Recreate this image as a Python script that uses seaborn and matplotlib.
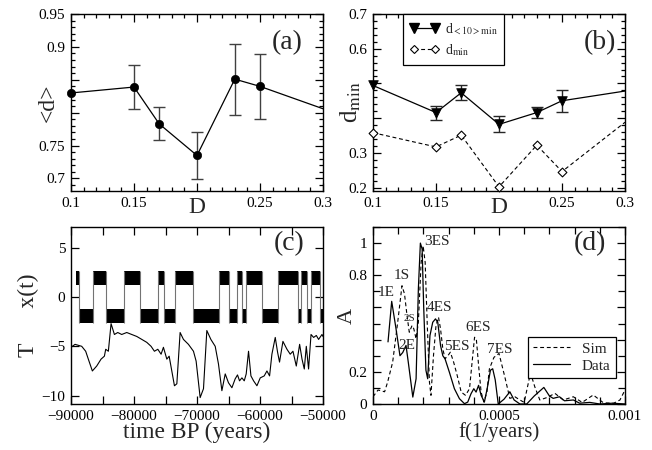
import numpy as np
import seaborn as sns
import matplotlib
matplotlib.use("Agg")
import matplotlib.pyplot as plt
from matplotlib.lines import Line2D
from matplotlib.ticker import MultipleLocator, FixedLocator, FixedFormatter

# ---- data: panel (a) mean distance vs noise D
D_vals = [0.1, 0.15, 0.17, 0.2, 0.23, 0.25, 0.3]
d_mean = [0.830, 0.839, 0.783, 0.735, 0.851, 0.840, 0.806]
d_err = [0.0, 0.033, 0.025, 0.036, 0.054, 0.049, 0.0]

# ---- panel (b) minimal distances
d10_mean = [0.494, 0.416, 0.473, 0.382, 0.416, 0.450, 0.478]
d10_err = [0.0, 0.020, 0.021, 0.023, 0.015, 0.031, 0.0]
dmin_vals = [0.358, 0.317, 0.351, 0.202, 0.322, 0.246, 0.388]
n_marked = 6  # last point (0.3) is only the line end

# ---- panel (c) bistable signal x(t): switching times and state (1 = upper well)
switch_years = [-89200, -88750, -86460, -84440, -81530, -79030, -76220, -75170,
                -73470, -70660, -66430, -65000, -63670, -62870, -62190, -59690,
                -57210, -54030, -53440, -52540, -51900, -50420, -50000]
x_state = [1, 0, 1, 0, 1, 0, 1, 0, 1, 0, 1, 0, 1, 0, 1, 0, 1, 0, 1, 0, 1, 0]
band_up = [1.2, 2.6]
band_down = [-2.6, -1.2]

# temperature record T
T_years = [-90000, -89360, -88300, -87670, -87250, -86610, -85920, -85230, -84700,
           -84490, -84070, -83640, -83110, -82580, -81950, -81150, -80360, -79560,
           -78760, -77970, -77290, -76760, -76220, -75700, -75330, -74790, -74420,
           -74000, -73580, -73200, -72680, -72150, -71360, -70560, -70140, -69500,
           -68970, -68440, -67800, -67110, -66590, -66050, -65520, -65000, -64460,
           -63940, -63570, -63250, -62870, -62500, -62190, -61820, -61440, -61020,
           -60490, -59960, -59330, -58900, -58480, -58110, -57580, -57210, -56900,
           -56360, -55720, -55200, -54770, -54240, -53710, -53330, -52970, -52650,
           -52290, -51900, -51490, -51060, -50700, -50160, -50000]
T_vals = [-5.1, -4.8, -5.0, -5.5, -6.3, -7.5, -7.0, -6.3, -6.0,
          -5.3, -5.5, -2.7, -3.8, -3.6, -3.8, -3.6, -3.8, -4.0,
          -4.3, -4.6, -5.0, -5.5, -5.3, -5.8, -5.1, -6.3, -6.0,
          -7.5, -9.0, -8.8, -3.6, -4.3, -4.8, -5.5, -6.5, -10.2,
          -9.3, -3.4, -4.3, -5.0, -6.8, -9.5, -7.8, -8.7, -9.2,
          -8.3, -7.9, -8.5, -8.2, -8.5, -7.8, -5.5, -8.0, -8.5,
          -9.0, -8.2, -8.0, -7.5, -8.0, -5.8, -4.1, -5.6, -6.6,
          -4.5, -5.3, -5.8, -5.5, -7.0, -4.8, -6.3, -7.3, -5.0,
          -7.3, -3.8, -4.1, -3.9, -4.3, -3.8, -4.0]

# ---- panel (d) spectra, frequency in units of 1e-4 1/years
f_data = [0.596, 0.742, 0.914, 1.07, 1.18, 1.31, 1.40, 1.58, 1.71, 1.80, 1.88, 1.95,
          2.01, 2.10, 2.17, 2.26, 2.37, 2.48, 2.57, 2.68, 2.77, 2.86, 3.03, 3.23,
          3.43, 3.63, 3.76, 3.89, 4.00, 4.09, 4.19, 4.29, 4.42, 4.53, 4.66, 4.75,
          4.85, 4.97, 5.2, 5.43, 5.6, 5.83, 6.1, 6.4, 6.78, 7.0, 7.15, 7.4, 7.6,
          7.95, 8.2, 8.6, 9.0, 9.5, 10.0]
A_data = [0.386, 0.638, 0.467, 0.30, 0.32, 0.364, 0.26, 0.043, 0.157, 0.715, 1.0, 0.963,
          0.61, 0.21, 0.157, 0.425, 0.508, 0.529, 0.508, 0.364, 0.30, 0.28, 0.198, 0.095,
          0.033, 0.002, 0.012, 0.064, 0.095, 0.074, 0.116, 0.054, 0.012, 0.095, 0.21, 0.219,
          0.15, 0.0, 0.03, 0.076, 0.025, 0.0, 0.0, 0.05, 0.103, 0.05, 0.035, 0.045, 0.02,
          0.025, 0.005, 0.01, 0.0, 0.005, 0.0]
f_sim = [0.0, 0.2, 0.46, 0.58, 0.78, 0.98, 1.15, 1.25, 1.35, 1.44, 1.55, 1.62, 1.71,
         1.80, 1.91, 1.99, 2.07, 2.15, 2.24, 2.30, 2.40, 2.50, 2.60, 2.68, 2.77, 2.86,
         2.97, 3.07, 3.20, 3.34, 3.50, 3.67, 3.83, 3.92, 4.03, 4.10, 4.19, 4.29, 4.40,
         4.52, 4.62, 4.8, 5.0, 5.23, 5.43, 5.63, 5.83, 6.0, 6.25, 6.42, 6.62, 6.9,
         7.22, 7.55, 7.95, 8.3, 8.74, 9.14, 9.54, 9.8, 10.0]
A_sim = [0.045, 0.087, 0.076, 0.136, 0.26, 0.508, 0.735, 0.684, 0.55, 0.446, 0.488, 0.467, 0.405,
         0.508, 0.88, 0.983, 0.88, 0.508, 0.136, 0.054, 0.30, 0.488, 0.539, 0.467, 0.343, 0.281,
         0.30, 0.322, 0.26, 0.178, 0.074, 0.054, 0.095, 0.24, 0.415, 0.405, 0.24, 0.074, 0.012,
         0.074, 0.219, 0.29, 0.314, 0.169, 0.035, 0.045, 0.025, 0.01, 0.194, 0.107, 0.025, 0.04,
         0.066, 0.025, 0.045, 0.01, 0.056, 0.008, 0.004, 0.025, 0.087]
peak_names = ["1E", "1S", "2S", "2E", "3ES", "4ES", "5ES", "6ES", "7ES"]

sns.set_theme(style="ticks")
plt.rcParams["font.family"] = ["Liberation Serif", "DejaVu Serif"]
plt.rcParams["mathtext.fontset"] = "stix"
plt.rcParams["axes.linewidth"] = 1.0
plt.rcParams["axes.edgecolor"] = "black"

fig = plt.figure(figsize=(6.52, 4.5), dpi=100)
W, H = 252 / 652, 177 / 450
ax_a = fig.add_axes([71 / 652, 1 - 191 / 450, W, H])
ax_b = fig.add_axes([373 / 652, 1 - 191 / 450, W, H])
ax_c = fig.add_axes([71 / 652, 1 - 404 / 450, W, H])
ax_d = fig.add_axes([373 / 652, 1 - 404 / 450, W, H])


def style_ticks(ax, minor_len=3):
    ax.tick_params(which="both", direction="in", top=True, right=True,
                   color="black", width=0.9, labelsize=11, pad=4,
                   labelcolor="black")
    ax.tick_params(which="major", length=6)
    ax.tick_params(which="minor", length=minor_len)


# (a)
D = np.array(D_vals)
m = np.array(d_mean)
e = np.array(d_err)
sns.lineplot(x=D, y=m, ax=ax_a, color="black", lw=0.9, estimator=None, sort=False)
has = e > 0
ax_a.errorbar(D[has], m[has], yerr=e[has], fmt="none", ecolor="0.25",
              elinewidth=1.0, capsize=4, capthick=1.0)
sns.scatterplot(x=D[:n_marked], y=m[:n_marked], ax=ax_a, marker="o", s=36,
                color="black", edgecolor="black", clip_on=False, zorder=4)
ax_a.set_xlim(0.1, 0.3)
ax_a.set_ylim(0.681, 0.95)
ax_a.xaxis.set_major_locator(FixedLocator([0.1, 0.15, 0.2, 0.25, 0.3]))
ax_a.xaxis.set_major_formatter(FixedFormatter(["0.1", "0.15", "", "0.25", "0.3"]))
ax_a.xaxis.set_minor_locator(MultipleLocator(0.01))
ax_a.yaxis.set_major_locator(FixedLocator([0.7, 0.75, 0.8, 0.85, 0.9, 0.95]))
ax_a.yaxis.set_major_formatter(FixedFormatter(["0.7", "0.75", "", "", "0.9", "0.95"]))
ax_a.yaxis.set_minor_locator(MultipleLocator(0.01))
style_ticks(ax_a)
ax_a.set_xlabel("D", fontsize=17)
ax_a.set_ylabel("<d>", fontsize=17)
ax_a.xaxis.set_label_coords(0.5, -0.035)
ax_a.yaxis.set_label_coords(-0.05, 0.5)
ax_a.text(0.857, 0.84, "(a)", transform=ax_a.transAxes, fontsize=20,
          ha="center", va="center")

# (b)
m10 = np.array(d10_mean)
e10 = np.array(d10_err)
dm = np.array(dmin_vals)
sns.lineplot(x=D, y=m10, ax=ax_b, color="black", lw=0.9, estimator=None, sort=False)
sns.lineplot(x=D, y=dm, ax=ax_b, color="black", lw=0.8, estimator=None, sort=False,
             linestyle=(0, (3.5, 2.5)))
has = e10 > 0
ax_b.errorbar(D[has], m10[has], yerr=e10[has], fmt="none", ecolor="0.15",
              elinewidth=1.0, capsize=4, capthick=1.0)
sns.scatterplot(x=D[:n_marked], y=m10[:n_marked], ax=ax_b, marker="v", s=48,
                color="black", edgecolor="black", clip_on=False, zorder=4)
sns.scatterplot(x=D[:n_marked], y=dm[:n_marked], ax=ax_b, marker="D", s=20,
                color="white", edgecolor="black", linewidth=0.8, clip_on=False, zorder=4)
ax_b.set_xlim(0.1, 0.3)
ax_b.set_ylim(0.19, 0.70)
ax_b.xaxis.set_major_locator(FixedLocator([0.1, 0.15, 0.2, 0.25, 0.3]))
ax_b.xaxis.set_major_formatter(FixedFormatter(["0.1", "0.15", "", "0.25", "0.3"]))
ax_b.xaxis.set_minor_locator(MultipleLocator(0.01))
ax_b.yaxis.set_major_locator(FixedLocator([0.2, 0.3, 0.4, 0.5, 0.6, 0.7]))
ax_b.yaxis.set_major_formatter(FixedFormatter(["0.2", "0.3", "", "", "0.6", "0.7"]))
ax_b.yaxis.set_minor_locator(MultipleLocator(0.02))
style_ticks(ax_b)
ax_b.set_xlabel("D", fontsize=17)
ax_b.set_ylabel(r"d$_{\mathrm{min}}$", fontsize=18)
ax_b.xaxis.set_label_coords(0.5, -0.035)
ax_b.yaxis.set_label_coords(-0.04, 0.5)
ax_b.text(0.90, 0.84, "(b)", transform=ax_b.transAxes, fontsize=20,
          ha="center", va="center")
h_b = [Line2D([], [], color="black", lw=0.9, marker="v", ms=7),
       Line2D([], [], color="black", lw=0.8, linestyle=(0, (3.5, 2.5)), marker="D",
              ms=4.5, mfc="white", mec="black", mew=0.8)]
leg = ax_b.legend(h_b, [r"d$_{\mathrm{<10>min}}$", r"d$_{\mathrm{min}}$"],
                  loc="upper left", bbox_to_anchor=(0.119, 1.0), borderaxespad=0,
                  numpoints=2, handlelength=2.1, handletextpad=0.4, fontsize=10,
                  fancybox=False, framealpha=1, edgecolor="black", borderpad=0.5,
                  labelspacing=0.4)
leg.get_frame().set_linewidth(0.9)

# (c)
lo = [band_up[0] if s else band_down[0] for s in x_state]
hi = [band_up[1] if s else band_down[1] for s in x_state]
ax_c.fill_between(switch_years, lo + lo[-1:], hi + hi[-1:], step="post",
                  color="black", lw=0)
ax_c.vlines(switch_years[1:-1], band_down[0], band_up[1], color="0.45", lw=0.8)
sns.lineplot(x=T_years, y=T_vals, ax=ax_c, color="black", lw=0.8,
             estimator=None, sort=False)
ax_c.set_xlim(-90000, -50000)
ax_c.set_ylim(-10.85, 7.1)
ax_c.xaxis.set_major_locator(MultipleLocator(10000))
ax_c.xaxis.set_minor_locator(MultipleLocator(5000))
ax_c.yaxis.set_major_locator(MultipleLocator(5))
style_ticks(ax_c, minor_len=6)
ax_c.set_xlabel("time BP (years)", fontsize=17)
ax_c.set_ylabel("T      x(t)", fontsize=17)
ax_c.xaxis.set_label_coords(0.5, -0.1)
ax_c.yaxis.set_label_coords(-0.125, 0.5)
ax_c.text(0.865, 0.904, "(c)", transform=ax_c.transAxes, fontsize=20,
          ha="center", va="center")

# (d)
dash = (0, (3.5, 2.5))
sns.lineplot(x=np.array(f_sim) * 1e-4, y=A_sim, ax=ax_d, color="black", lw=0.8,
             linestyle=dash, estimator=None, sort=False)
sns.lineplot(x=np.array(f_data) * 1e-4, y=A_data, ax=ax_d, color="black", lw=0.9,
             estimator=None, sort=False)
ax_d.set_xlim(0, 0.001)
ax_d.set_ylim(0, 1.1)
ax_d.xaxis.set_major_locator(FixedLocator([0, 0.0005, 0.001]))
ax_d.xaxis.set_major_formatter(FixedFormatter(["0", "0.0005", "0.001"]))
ax_d.xaxis.set_minor_locator(MultipleLocator(0.0001))
ax_d.yaxis.set_major_locator(FixedLocator([0, 0.2, 0.4, 0.6, 0.8, 1.0]))
ax_d.yaxis.set_major_formatter(FixedFormatter(["0", "0.2", "", "", "0.8", "1"]))
ax_d.yaxis.set_minor_locator(MultipleLocator(0.1))
style_ticks(ax_d, minor_len=5)
ax_d.set_xlabel("f(1/years)", fontsize=15)
ax_d.set_ylabel("A", fontsize=16)
ax_d.xaxis.set_label_coords(0.5, -0.1)
ax_d.yaxis.set_label_coords(-0.063, 0.5)
ax_d.text(0.861, 0.904, "(d)", transform=ax_d.transAxes, fontsize=20,
          ha="center", va="center")
peak_xy = [(0.53e-4, 0.696), (1.13e-4, 0.80), (1.43e-4, 0.53), (1.35e-4, 0.366),
           (2.52e-4, 1.012), (2.65e-4, 0.60), (3.31e-4, 0.355), (4.17e-4, 0.473),
           (5.03e-4, 0.339)]
for name, (px, py) in zip(peak_names, peak_xy):
    ax_d.text(px, py, name, fontsize=8 if name == "2S" else 11,
              ha="center", va="center")
h_d = [Line2D([], [], color="black", lw=0.8, linestyle=dash),
       Line2D([], [], color="black", lw=0.9)]
leg = ax_d.legend(h_d, ["Sim", "Data"], loc="upper left", bbox_to_anchor=(0.614, 0.38),
                  borderaxespad=0, handlelength=2.4, fontsize=11, fancybox=False,
                  framealpha=1, edgecolor="black", borderpad=0.35, labelspacing=0.2)
leg.get_frame().set_linewidth(0.9)

fig.savefig("out.png", dpi=100)
